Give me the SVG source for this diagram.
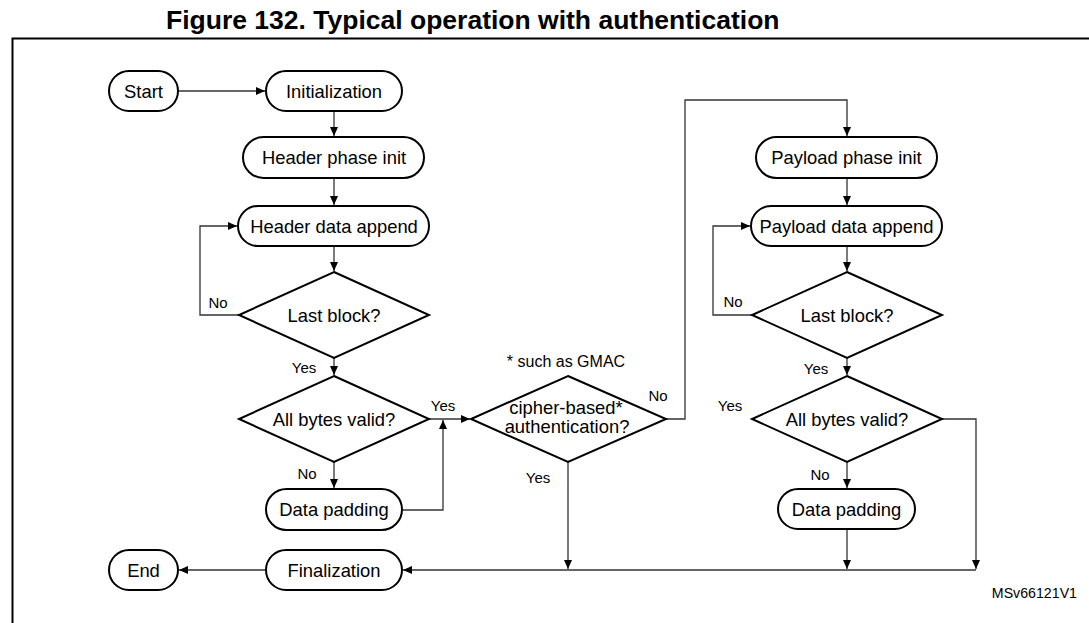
<svg xmlns="http://www.w3.org/2000/svg" width="1089" height="623" viewBox="0 0 1089 623">
<style>
.node{fill:#fff;stroke:#000;stroke-width:2}
.t{font-family:"Liberation Sans",Arial,sans-serif;font-size:18.4px;fill:#000;text-anchor:middle}
.lbl{font-family:"Liberation Sans",Arial,sans-serif;font-size:15px;fill:#000;text-anchor:middle}
.conn{fill:none;stroke:#333;stroke-width:1.3}
.title{font-family:"Liberation Sans",Arial,sans-serif;font-size:26.5px;font-weight:bold;fill:#000}
</style>
<defs>
<marker id="arr" markerUnits="userSpaceOnUse" markerWidth="10" markerHeight="8" refX="9" refY="4" orient="auto">
<path d="M0,0 L9,4 L0,8 Z" fill="#000"/>
</marker>
</defs>
<rect width="1089" height="623" fill="#fff"/>
<text class="title" x="166" y="29">Figure 132. Typical operation with authentication</text>
<path d="M12.5,623 V38.5 H1089" fill="none" stroke="#000" stroke-width="2"/>

<g id="connectors">
<path class="conn" d="M178,91 H265" marker-end="url(#arr)"/>
<path class="conn" d="M334,111 V136" marker-end="url(#arr)"/>
<path class="conn" d="M334,178 V205" marker-end="url(#arr)"/>
<path class="conn" d="M334,246 V271" marker-end="url(#arr)"/>
<path class="conn" d="M239,315 H200 V226 H237" marker-end="url(#arr)"/>
<path class="conn" d="M334,358 V375" marker-end="url(#arr)"/>
<path class="conn" d="M334,462 V488" marker-end="url(#arr)"/>
<path class="conn" d="M429,419 H470" marker-end="url(#arr)"/>
<path class="conn" d="M402,510 H443 V420" marker-end="url(#arr)"/>
<path class="conn" d="M666,419 H685 V100 H847 V136" marker-end="url(#arr)"/>
<path class="conn" d="M847,178 V205" marker-end="url(#arr)"/>
<path class="conn" d="M847,246 V271" marker-end="url(#arr)"/>
<path class="conn" d="M752,315 H713 V226 H750" marker-end="url(#arr)"/>
<path class="conn" d="M847,358 V375" marker-end="url(#arr)"/>
<path class="conn" d="M847,462 V488" marker-end="url(#arr)"/>
<path class="conn" d="M942,419 H976 V569" marker-end="url(#arr)"/>
<path class="conn" d="M847,529 V569" marker-end="url(#arr)"/>
<path class="conn" d="M568,462 V569" marker-end="url(#arr)"/>
<path class="conn" d="M976,570 H403" marker-end="url(#arr)"/>
<path class="conn" d="M266,570 H179" marker-end="url(#arr)"/>
</g>

<g id="start"><rect class="node" x="109" y="71" width="69" height="40" rx="20"/><text class="t" x="143.5" y="97.5">Start</text></g>
<g id="init"><rect class="node" x="266" y="71" width="136" height="40" rx="20"/><text class="t" x="334" y="97.5">Initialization</text></g>
<g id="header-phase-init"><rect class="node" x="243" y="137" width="181" height="41" rx="20.5"/><text class="t" x="334" y="164">Header phase init</text></g>
<g id="header-data-append"><rect class="node" x="238" y="206" width="191" height="40" rx="20"/><text class="t" x="334" y="232.5">Header data append</text></g>
<g id="last-block-1"><path class="node" d="M334,272 L429,315 L334,358 L239,315 Z"/><text class="t" x="334" y="321.5">Last block?</text></g>
<g id="all-bytes-valid-1"><path class="node" d="M334,376 L429,419 L334,462 L239,419 Z"/><text class="t" x="334" y="425.5">All bytes valid?</text></g>
<g id="data-padding-1"><rect class="node" x="266" y="489" width="136" height="41" rx="20.5"/><text class="t" x="334" y="516">Data padding</text></g>
<g id="finalization"><rect class="node" x="266" y="550" width="136" height="40" rx="20"/><text class="t" x="334" y="576.5">Finalization</text></g>
<g id="end"><rect class="node" x="109" y="550" width="69" height="40" rx="20"/><text class="t" x="143.5" y="576.5">End</text></g>
<g id="cipher-auth"><path class="node" d="M568,376 L666,419 L568,462 L471,419 Z"/><text class="t" x="566" y="414">cipher-based*</text><text class="t" x="567" y="433">authentication?</text></g>
<g id="payload-phase-init"><rect class="node" x="756" y="137" width="181" height="41" rx="20.5"/><text class="t" x="846.5" y="164">Payload phase init</text></g>
<g id="payload-data-append"><rect class="node" x="751" y="206" width="191" height="40" rx="20"/><text class="t" x="846.5" y="232.5">Payload data append</text></g>
<g id="last-block-2"><path class="node" d="M847,272 L942,315 L847,358 L752,315 Z"/><text class="t" x="847" y="321.5">Last block?</text></g>
<g id="all-bytes-valid-2"><path class="node" d="M847,376 L942,419 L847,462 L752,419 Z"/><text class="t" x="847" y="425.5">All bytes valid?</text></g>
<g id="data-padding-2"><rect class="node" x="778" y="489" width="137" height="40" rx="20"/><text class="t" x="846.5" y="515.5">Data padding</text></g>

<g id="labels">
<text class="lbl" x="218" y="308">No</text>
<text class="lbl" x="304" y="373">Yes</text>
<text class="lbl" x="443" y="411">Yes</text>
<text class="lbl" x="307" y="479">No</text>
<text class="lbl" x="658" y="401">No</text>
<text class="lbl" x="566" y="367" style="font-size:16px">* such as GMAC</text>
<text class="lbl" x="538" y="483">Yes</text>
<text class="lbl" x="733" y="307">No</text>
<text class="lbl" x="816" y="374">Yes</text>
<text class="lbl" x="730" y="411">Yes</text>
<text class="lbl" x="820" y="480">No</text>
<text class="lbl" x="1077" y="598" style="font-size:14.2px;text-anchor:end">MSv66121V1</text>
</g>
</svg>
